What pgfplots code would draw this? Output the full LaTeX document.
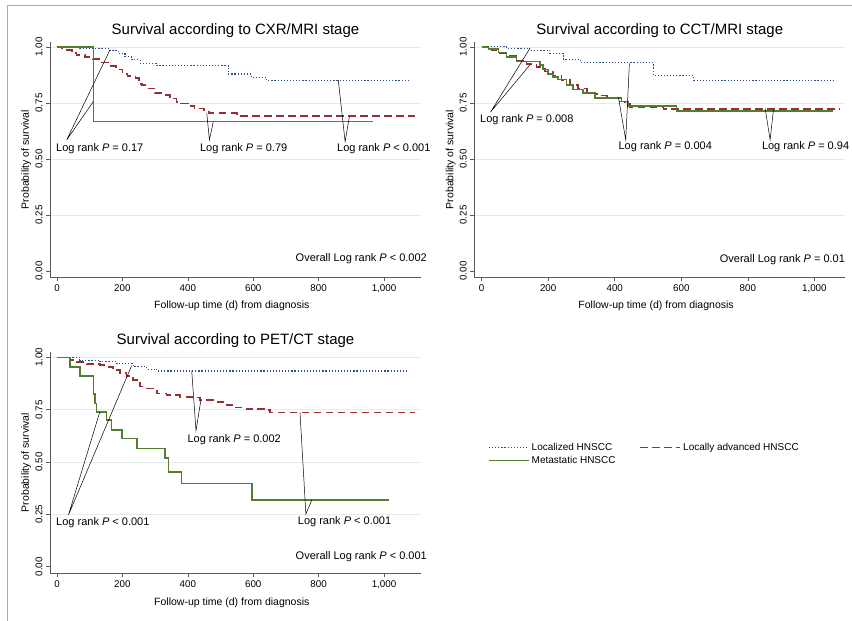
\documentclass[border=0pt]{standalone}
\usepackage{pgfplots}
\pgfplotsset{compat=1.18}
\usepackage{fontspec}
\setmainfont{Liberation Sans}

\definecolor{kmblue}{RGB}{45,80,140}
\definecolor{kmred}{RGB}{150,45,55}
\definecolor{kmgreen}{RGB}{85,125,50}
\definecolor{gridc}{RGB}{226,236,240}
\definecolor{framec}{RGB}{170,170,170}

\tikzset{lr/.style={font=\fontsize{11}{13}\selectfont, inner sep=0pt}}

\pgfplotsset{
  km/.style={
    scale only axis, anchor=south west, clip=false,
    axis lines*=left,
    tick align=outside, major tick length=4pt,
    tick style={black!65, line width=0.6pt},
    axis line style={black!65, line width=0.8pt},
    xtick={0,200,...,1000}, xticklabels={0,200,400,600,800,{1,000}},
    ytick={0.25,0.5,0.75,1}, yticklabels={0.25,0.50,0.75,1.00},
    extra y ticks={0}, extra y tick labels={0.00}, extra y tick style={grid=none},
    ymajorgrids, grid style={gridc, line width=0.8pt},
    ticklabel style={font=\fontsize{9.8}{11}\selectfont, text=black},
    yticklabel style={rotate=90, anchor=south},
    xlabel={Follow-up time (d) from diagnosis},
    ylabel={Probability of survival},
    label style={font=\fontsize{10.5}{12}\selectfont},
    xlabel style={at={(axis description cs:0.49,0)}, anchor=center, yshift=-29pt},
    ylabel style={at={(axis description cs:-0.064,0.5)}, anchor=center},
    every axis title shift=0pt,
    title style={font=\fontsize{15}{18}\selectfont, at={(axis description cs:0.5,1)}, anchor=center, yshift=11pt},
  },
  loc/.style={kmblue, line width=1.1pt, dash pattern=on 1.2pt off 1.9pt, const plot},
  adv/.style={kmred, line width=1.6pt, dash pattern=on 7.5pt off 4.5pt, const plot},
  met/.style={kmgreen, line width=1.5pt, const plot},
  annot/.style={black, line width=0.5pt, forget plot},
}

\begin{document}
\begin{tikzpicture}
\useasboundingbox (0pt,0pt) rectangle (852pt,-621pt);
\draw[framec, line width=1.5pt] (852pt,-5.5pt) -- (7.3pt,-5.5pt) -- (7.3pt,-621pt);

% CXR/MRI
\begin{axis}[km, at={(50pt,-277pt)}, width=371pt, height=235pt,
  xmin=-21.4, xmax=1113, ymin=-0.027, ymax=1.022,
  title={Survival according to CXR/MRI stage}]
\addplot[loc] coordinates {(0,1) (70,0.991) (162,0.984) (188,0.972) (208,0.957) (228,0.942) (254,0.927) (305,0.917) (524,0.879) (595,0.864) (641,0.85) (1080,0.85)};
\addplot[adv] coordinates {(0,1) (15,0.993) (30,0.985) (45,0.972) (60,0.963) (85,0.955) (110,0.945) (135,0.93) (160,0.915) (180,0.9) (200,0.88) (215,0.87) (240,0.86) (250,0.835) (260,0.83) (275,0.815) (300,0.795) (320,0.785) (345,0.77) (365,0.755) (380,0.748) (400,0.735) (420,0.725) (450,0.712) (465,0.705) (550,0.692) (1095,0.692)};
\addplot[met] coordinates {(0,1) (111,0.667) (965,0.667)};
\addplot[annot] coordinates {(162,0.987) (29.7,0.585) (111,0.756)};
\addplot[annot] coordinates {(458,0.704) (466,0.585) (478,0.667)};
\addplot[annot] coordinates {(860,0.853) (881,0.577) (894,0.689)};
\node[lr, anchor=west] at (axis cs:-3,0.545) {Log rank \textit{P} = 0.17};
\node[lr, anchor=west] at (axis cs:437,0.545) {Log rank \textit{P} = 0.79};
\node[lr, anchor=west] at (axis cs:856,0.545) {Log rank \textit{P} < 0.001};
\node[lr, anchor=east] at (axis cs:1131.5,0.054) {Overall Log rank \textit{P} < 0.002};
\end{axis}

% CCT/MRI
\begin{axis}[km, at={(474.3pt,-277pt)}, width=371pt, height=235pt,
  xmin=-22.2, xmax=1093, ymin=-0.027, ymax=1.022,
  title={Survival according to CCT/MRI stage}]
\addplot[loc] coordinates {(0,1) (75,0.993) (145,0.985) (205,0.972) (245,0.945) (296,0.93) (516,0.872) (636,0.852) (1062,0.852)};
\addplot[adv] coordinates {(0,1) (20,0.987) (45,0.972) (75,0.962) (105,0.94) (135,0.925) (165,0.91) (190,0.89) (215,0.87) (240,0.853) (265,0.83) (290,0.815) (316,0.793) (346,0.783) (376,0.771) (406,0.756) (431,0.744) (446,0.733) (546,0.722) (1077,0.722)};
\addplot[met] coordinates {(0,1) (20,0.99) (50,0.975) (75,0.955) (105,0.935) (175,0.92) (185,0.9) (200,0.88) (215,0.865) (230,0.855) (255,0.83) (275,0.81) (305,0.795) (340,0.773) (420,0.757) (440,0.737) (586,0.715) (1057,0.715)};
\addplot[annot] coordinates {(145,0.994) (27,0.71) (145,0.92)};
\addplot[annot] coordinates {(411,0.775) (433,0.585) (444,0.927)};
\addplot[annot] coordinates {(852,0.726) (867,0.585) (877,0.719)};
\node[lr, anchor=west] at (axis cs:-5,0.674) {Log rank \textit{P} = 0.008};
\node[lr, anchor=west] at (axis cs:411,0.555) {Log rank \textit{P} = 0.004};
\node[lr, anchor=west] at (axis cs:842,0.555) {Log rank \textit{P} = 0.94};
\node[lr, anchor=east] at (axis cs:1092.5,0.049) {Overall Log rank \textit{P} = 0.01};
\end{axis}

% PET/CT
\begin{axis}[km, at={(50pt,-573.3pt)}, width=371pt, height=221.6pt,
  xmin=-21.4, xmax=1113, ymin=-0.0315, ymax=1.027,
  title={Survival according to PET/CT stage},
  legend columns=2, legend cell align=left,
  legend style={at={(axis description cs:1.1725,0.606)}, anchor=north west,
    draw=none, fill=none, font=\fontsize{10}{12}\selectfont,
    /tikz/every even column/.append style={column sep=22pt}},
  legend image code/.code={\draw[#1] (0pt,0pt) -- (40pt,0pt);}]
\addplot[loc] coordinates {(0,1) (70,0.987) (131,0.979) (183,0.97) (233,0.955) (274,0.944) (305,0.935) (1069,0.935)};
\addlegendentry{Localized HNSCC}
\addplot[adv] coordinates {(0,1) (40,0.987) (60,0.979) (91,0.968) (131,0.963) (152,0.955) (172,0.939) (193,0.924) (213,0.911) (233,0.892) (254,0.86) (274,0.852) (305,0.828) (335,0.82) (376,0.812) (417,0.809) (437,0.796) (488,0.788) (519,0.772) (540,0.76) (580,0.753) (641,0.748) (651,0.737) (1095,0.737)};
\addlegendentry{Locally advanced HNSCC}
\addplot[met] coordinates {(0,1) (40,0.955) (70,0.911) (111,0.826) (116,0.78) (121,0.74) (152,0.70) (167,0.653) (198,0.613) (244,0.565) (330,0.52) (341,0.453) (381,0.398) (596,0.318) (1014,0.318)};
\addlegendentry{Metastatic HNSCC}
\addplot[annot] coordinates {(131,0.74) (35,0.247) (228,0.96)};
\addplot[annot] coordinates {(412,0.935) (425,0.65) (440,0.796)};
\addplot[annot] coordinates {(743,0.737) (761,0.252) (779,0.318)};
\node[lr, anchor=west] at (axis cs:-3,0.21) {Log rank \textit{P} < 0.001};
\node[lr, anchor=west] at (axis cs:398.5,0.608) {Log rank \textit{P} = 0.002};
\node[lr, anchor=west] at (axis cs:736,0.215) {Log rank \textit{P} < 0.001};
\node[lr, anchor=east] at (axis cs:1131.5,0.048) {Overall Log rank \textit{P} < 0.001};
\end{axis}
\end{tikzpicture}
\end{document}
